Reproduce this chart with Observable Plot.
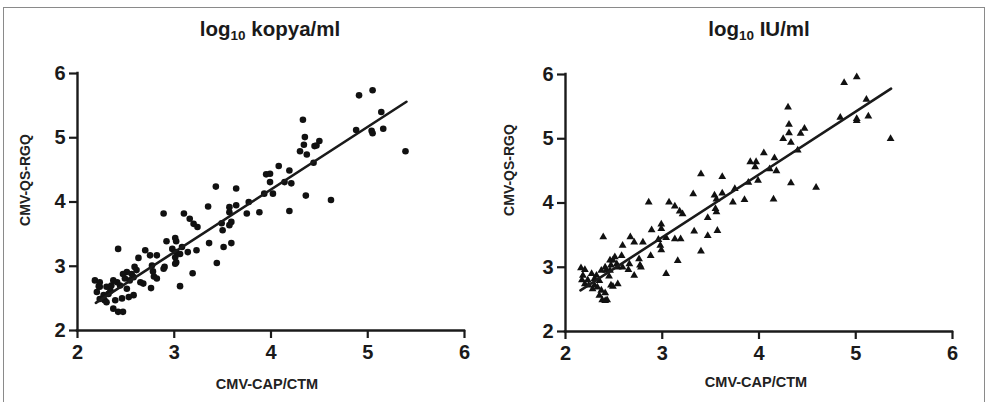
<!DOCTYPE html>
<html>
<head>
<meta charset="utf-8">
<script src="https://cdn.jsdelivr.net/npm/d3@7"></script>
<script src="https://cdn.jsdelivr.net/npm/@observablehq/plot@0.6"></script>
<style>
  body { margin: 0; background: #fff; font-family: "Liberation Sans", Arial, sans-serif; }
  #wrap { position: relative; width: 989px; height: 402px; overflow: hidden; background: #fff; }
  #border { position: absolute; left: 3px; top: 7px; width: 982px; height: 420px; border: 1px solid #8a8a8a; box-sizing: border-box; }
  .panel { position: absolute; top: 0; }
  .title { position: absolute; font-weight: bold; font-size: 20.5px; line-height: 20px; color: #1a1a1a; white-space: nowrap; transform: translateX(-50%); }
  .title sub { font-size: 13.5px; vertical-align: -4px; line-height: 0; }
  .ylab { position: absolute; font-weight: bold; font-size: 14px; color: #222; white-space: nowrap; transform: translate(-50%, -50%) rotate(-90deg); }
  .xlab { position: absolute; font-weight: bold; font-size: 14.5px; color: #222; white-space: nowrap; transform: translate(-50%, -50%); }
</style>
</head>
<body>
<div id="wrap">
  <div id="border"></div>
  <div id="left" class="panel" style="left:0px"></div>
  <div id="right" class="panel" style="left:494px"></div>
  <div class="title" style="left:270px; top:19px">log<sub>10</sub> kopya/ml</div>
  <div class="title" style="left:759px; top:19px">log<sub>10</sub> IU/ml</div>
  <div class="ylab" style="left:25px; top:180px">CMV-QS-RGQ</div>
  <div class="ylab" style="left:509px; top:170px">CMV-QS-RGQ</div>
  <div class="xlab" style="left:267px; top:384px">CMV-CAP/CTM</div>
  <div class="xlab" style="left:756px; top:382px">CMV-CAP/CTM</div>
</div>
<script>
// Tick values (both axes, both panels)
const ticks = [2, 3, 4, 5, 6];

// Left panel: log10 kopya/ml (circles)
const kopyaX = [4.91,5.05,5.14,5.16,4.88,5.04,5.05,5.39,4.33,4.35,4.34,4.30,4.37,4.45,4.50,4.47,4.44,4.36,4.62,4.19,
  4.08,4.19,4.21,4.14,3.95,3.99,3.99,4.02,3.93,3.88,3.77,3.75,3.64,3.64,3.57,3.57,3.43,3.35,3.49,3.59,
  3.57,3.50,3.59,3.51,3.36,3.44,3.10,3.16,3.20,3.24,2.89,3.01,3.02,2.92,3.08,2.98,3.02,3.14,3.23,3.06,
  3.01,3.02,3.01,3.19,3.06,2.90,2.89,2.82,2.75,2.70,2.63,2.77,2.78,2.79,2.82,2.76,2.68,2.65,2.59,2.61,
  2.56,2.58,2.51,2.47,2.49,2.54,2.42,2.41,2.44,2.51,2.58,2.53,2.46,2.39,2.37,2.42,2.47,2.34,2.32,2.27,
  2.28,2.23,2.23,2.20,2.18,2.23,2.22,2.30,2.37,2.35,2.30];
const kopyaY = [5.66,5.74,5.40,5.14,5.12,5.11,5.07,4.79,5.28,5.01,4.89,4.79,4.74,4.87,4.95,4.88,4.61,4.10,4.03,3.86,
  4.56,4.49,4.29,4.31,4.43,4.44,4.31,4.13,4.13,3.84,4.00,3.82,4.21,3.95,3.92,3.84,4.24,3.93,3.67,3.69,
  3.64,3.56,3.36,3.30,3.36,3.05,3.82,3.74,3.66,3.61,3.82,3.44,3.39,3.39,3.30,3.27,3.22,3.22,3.25,3.19,
  3.14,3.06,3.04,2.89,2.69,2.99,2.96,3.17,3.17,3.25,3.13,3.01,2.92,2.84,2.81,2.66,2.73,2.75,2.99,2.94,
  2.88,2.83,2.91,2.88,2.81,2.78,3.27,2.75,2.70,2.65,2.55,2.52,2.50,2.47,2.34,2.29,2.29,2.62,2.57,2.55,
  2.47,2.49,2.68,2.60,2.78,2.75,2.69,2.68,2.78,2.70,2.44];
// Fitted line endpoints
const kopyaFitX = [2.19, 5.40];
const kopyaFitY = [2.43, 5.56];

// Right panel: log10 IU/ml (triangles)
const iuX = [4.88,5.01,5.11,5.13,5.01,5.01,4.84,5.36,4.30,4.31,4.31,4.25,4.33,4.43,4.47,4.40,4.33,4.59,4.15,4.05,
  4.16,4.18,4.11,3.91,3.97,3.96,3.99,3.89,3.85,3.73,3.75,3.62,3.62,3.54,3.56,3.40,3.32,3.47,3.55,3.56,
  3.57,3.47,3.33,3.40,3.07,3.13,3.18,3.21,2.86,2.99,2.99,2.89,3.04,2.96,2.98,3.13,3.19,2.99,3.04,3.16,
  2.88,2.80,2.67,2.71,2.59,2.76,2.77,2.78,2.71,2.65,2.66,2.58,2.59,2.54,2.53,2.49,2.46,2.51,2.39,2.47,
  2.46,2.41,2.42,2.54,2.49,2.47,2.41,2.35,2.38,2.41,2.43,2.37,2.35,2.32,2.27,2.30,2.30,2.28,2.33,2.37,
  2.20,2.16,2.18,2.17,2.20,2.24,2.23,2.45];
const iuY = [5.87,5.96,5.61,5.35,5.31,5.28,5.33,5.00,5.49,5.22,5.09,5.00,4.94,5.08,5.16,4.82,4.31,4.24,4.06,4.78,
  4.70,4.50,4.53,4.64,4.64,4.56,4.35,4.32,4.05,4.01,4.22,4.41,4.15,4.12,4.06,4.45,4.14,3.77,3.91,3.86,
  3.57,3.49,3.56,3.25,4.01,3.95,3.87,3.83,4.01,3.67,3.60,3.58,3.46,3.43,3.34,3.44,3.44,3.27,2.90,3.10,
  3.18,3.39,3.47,3.39,3.34,3.13,3.03,3.00,2.87,2.96,3.05,3.18,3.00,3.00,3.05,3.11,3.11,3.16,3.47,3.03,
  2.95,3.00,2.95,2.74,2.70,2.72,2.60,2.56,2.49,2.48,2.49,2.95,2.79,2.87,2.90,2.82,2.72,2.66,2.69,2.64,
  2.96,2.99,2.87,2.80,2.74,2.72,2.80,2.86];
const iuFitX = [2.155, 5.365];
const iuFitY = [2.64, 5.78];

function panel(xs, ys, fx, fy, symbol, r, geom) {
  const pts = xs.map((x, i) => ({x, y: ys[i]}));
  const fit = fx.map((x, i) => ({x, y: fy[i]}));
  return Plot.plot({
    width: geom.width,
    height: 402,
    marginLeft: geom.ml,
    marginRight: geom.mr,
    marginTop: geom.mt,
    marginBottom: geom.mb,
    style: {fontFamily: '"Liberation Sans", Arial, sans-serif', fontSize: "20px", fontWeight: "bold", color: "#1a1a1a", background: "transparent", overflow: "visible"},
    x: {domain: [2, 6], ticks, label: null},
    y: {domain: [2, 6], ticks, label: null},
    marks: [
      Plot.dot(pts, {x: "x", y: "y", symbol: () => symbol, r, fill: "#111", stroke: "none"}),
      Plot.line(fit, {x: "x", y: "y", stroke: "#1a1a1a", strokeWidth: 2.6}),
      Plot.axisX({ticks, tickFormat: "d", tickSize: 8, tickPadding: 6, strokeWidth: 2.2, fontSize: 20, fontWeight: "bold", label: null}),
      Plot.axisY({ticks, tickFormat: "d", tickSize: 8, tickPadding: 4, strokeWidth: 2.2, fontSize: 20, fontWeight: "bold", label: null}),
      Plot.ruleY([2], {stroke: "#1a1a1a", strokeWidth: 2.4, strokeLinecap: "square"}),
      Plot.ruleX([2], {stroke: "#1a1a1a", strokeWidth: 2.4, strokeLinecap: "square"})
    ]
  });
}

document.getElementById("left").append(
  panel(kopyaX, kopyaY, kopyaFitX, kopyaFitY, "circle", 3.3, {width: 494, ml: 77, mr: 30, mt: 73, mb: 72})
);
document.getElementById("right").append(
  panel(iuX, iuY, iuFitX, iuFitY, "triangle", 2.9, {width: 495, ml: 71, mr: 37, mt: 74, mb: 71})
);
</script>
</body>
</html>
